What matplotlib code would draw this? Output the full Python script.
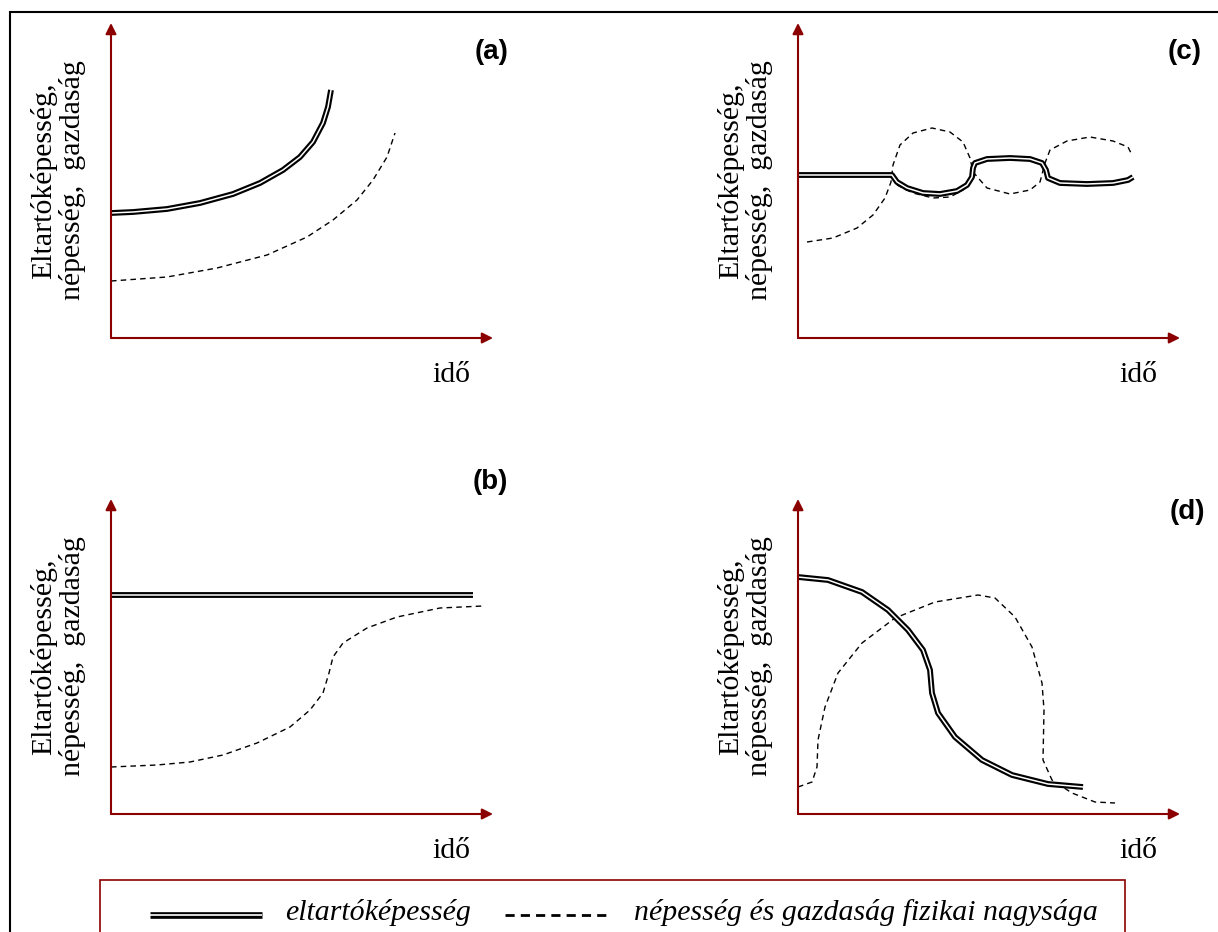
import matplotlib
matplotlib.use("Agg")
import matplotlib.pyplot as plt
import matplotlib.patheffects as pe
from matplotlib.patches import Rectangle

RED = "#8b0000"
SERIF = "Liberation Serif"
SANS = "Liberation Sans"

# panel (a): carrying capacity grows, population follows below
a_cap_t = [0, 22, 56, 89, 122, 149, 172, 189, 202, 212, 217, 220]
a_cap_v = [125, 126, 129, 135, 144, 155, 168, 181, 196, 215, 231, 248]
a_pop_t = [0, 56, 106, 156, 196, 222, 246, 262, 276, 284]
a_pop_v = [57, 61, 70, 83, 101, 118, 138, 158, 181, 205]

# panel (b): flat capacity, population approaches it
b_cap_t = [0, 362]
b_cap_v = [219, 219]
b_pop_t = [0, 46, 79, 112, 146, 179, 199, 212, 218, 222, 232, 256, 286, 329, 372]
b_pop_v = [47, 49, 52, 59, 71, 87, 104, 121, 141, 157, 171, 186, 197, 206, 208]

# panel (c): oscillation around capacity
c_cap_t = [0, 94, 99, 109, 125, 142, 159, 169, 174, 175, 177, 189, 212, 232,
           244, 248, 250, 262, 289, 315, 330, 335]
c_cap_v = [163, 163, 156, 150, 145, 144, 147, 153, 161, 170, 175, 179, 180,
           179, 175, 168, 160, 155, 154, 155, 158, 161]
c_pop_t = [9, 35, 59, 75, 87, 93, 95, 102, 115, 134, 152, 165, 172, 175, 189,
           212, 232, 242, 247, 252, 269, 292, 315, 330, 334]
c_pop_v = [96, 100, 110, 123, 140, 156, 173, 193, 205, 210, 206, 196, 180,
           166, 150, 144, 148, 156, 175, 188, 197, 201, 197, 191, 183]
c_pop2_t = [99, 115, 135, 152, 165, 172]
c_pop2_v = [153, 145, 140, 141, 148, 160]

# panel (d): overshoot and collapse
d_cap_t = [0, 30, 64, 90, 110, 125, 132, 134, 140, 157, 184, 214, 250, 285]
d_cap_v = [237, 234, 222, 204, 184, 164, 144, 121, 101, 77, 54, 39, 30, 27]
d_pop_t = [0, 14, 19, 20, 27, 40, 64, 97, 137, 180, 197, 217, 234, 244, 246,
           245, 254, 274, 297, 317]
d_pop_v = [27, 32, 47, 74, 107, 141, 171, 196, 212, 219, 216, 197, 167, 131,
           104, 54, 34, 21, 12, 11]

W, H = 1218, 932
fig = plt.figure(figsize=(W / 100, H / 100), dpi=100)

double = [pe.Stroke(linewidth=4.2, foreground="black"), pe.Normal()]


def panel(x0, y0, tag, tag_xy, cap, pops):
    ax = fig.add_axes([x0 / W, (H - y0) / H, 382 / W, 315 / H])
    ax.set_xlim(0, 382)
    ax.set_ylim(0, 315)
    ax.axis("off")
    for tip in [(1, 0), (0, 1)]:
        ax.annotate("", xy=tip, xytext=(0, 0), xycoords="axes fraction",
                    arrowprops=dict(arrowstyle="-|>", color=RED, lw=1.5,
                                    mutation_scale=16, shrinkA=0, shrinkB=0))
    for t, v in pops:
        ax.plot(t, v, color="black", lw=1.0, ls=(0, (4, 3)), clip_on=False,
                dash_joinstyle="round")
    ax.plot(cap[0], cap[1], color="white", lw=1.1, path_effects=double,
            solid_capstyle="butt", solid_joinstyle="round", clip_on=False)
    ax.text(-53, 157.5, "Eltartóképesség,\nnépesség,  gazdaság",
            rotation=90, ha="center", va="center", family=SERIF,
            fontsize=21.5, linespacing=1.1)
    ax.text(340, -37, "idő", ha="center", va="center", family=SERIF,
            fontsize=21.5)
    ax.text(tag_xy[0], tag_xy[1], tag, ha="center", va="center",
            family=SANS, weight="bold", fontsize=20)
    return ax


panel(111, 338, "(a)", (381, 286), (a_cap_t, a_cap_v),
      [(a_pop_t, a_pop_v)])
panel(111, 814, "(b)", (379, 332), (b_cap_t, b_cap_v),
      [(b_pop_t, b_pop_v)])
panel(798, 338, "(c)", (387, 286), (c_cap_t, c_cap_v),
      [(c_pop_t, c_pop_v), (c_pop2_t, c_pop2_v)])
panel(798, 814, "(d)", (389, 302), (d_cap_t, d_cap_v),
      [(d_pop_t, d_pop_v)])

# outer frame and legend box
fig.patches.append(Rectangle((10 / W, -0.1), 1.2, (H - 12) / H + 0.1,
                             transform=fig.transFigure, fill=False,
                             edgecolor="black", lw=1.5))
fig.patches.append(Rectangle((100 / W, -0.1), 1025 / W, (H - 880) / H + 0.1,
                             transform=fig.transFigure, fill=False,
                             edgecolor=RED, lw=1.2))

# legend samples
lg = fig.add_axes([0, 0, 1, 1], facecolor="none")
lg.set_xlim(0, W)
lg.set_ylim(H, 0)
lg.axis("off")
lg.plot([150, 262], [915, 915], color="white", lw=1.2,
        path_effects=[pe.Stroke(linewidth=4.8, foreground="black"), pe.Normal()],
        solid_capstyle="butt")
lg.plot([505, 610], [915, 915], color="black", lw=2.0, ls=(0, (3.3, 2.2)))
lg.text(285, 913, "eltartóképesség", family=SERIF, style="italic",
        fontsize=21.5, va="center", ha="left")
lg.text(634, 913, "népesség és gazdaság fizikai nagysága", family=SERIF,
        style="italic", fontsize=21.5, va="center", ha="left")

fig.savefig("out.png", dpi=100)
